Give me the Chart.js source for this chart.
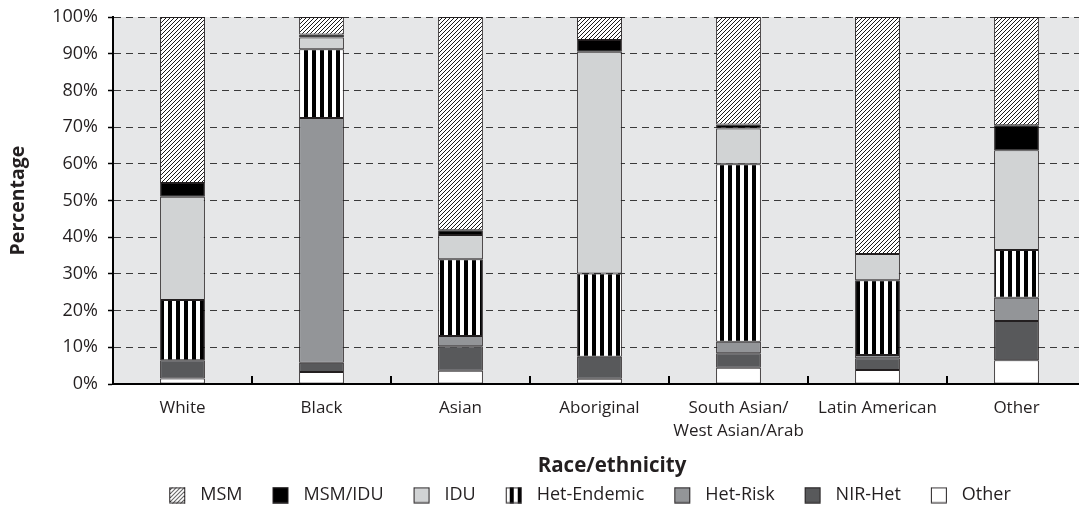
<!DOCTYPE html>
<html><head><meta charset="utf-8">
<script src="https://cdn.jsdelivr.net/npm/chart.js@4/dist/chart.umd.min.js"></script>
<style>
html,body{margin:0;padding:0;overflow:hidden;background:#fff;width:1079px;height:512px}
#wrap{width:1086px;height:512px}
canvas{display:block}
</style></head><body>
<div id="wrap"><canvas id="c" width="1086" height="512" style="width:1086px;height:512px"></canvas></div>
<script>
// ---- data (percent of cases, bottom of stack first) ----
const categories = ['White', 'Black', 'Asian', 'Aboriginal', ['South Asian/', 'West Asian/Arab'], 'Latin American', 'Other'];
const seriesNames = ['Other', 'NIR-Het', 'Het-Risk', 'Het-Endemic', 'IDU', 'MSM/IDU', 'MSM'];
const other      = [1.5, 3.3, 3.6, 1.4, 4.4, 3.8, 6.5];
const nirHet     = [5.0, 2.5, 6.7, 6.0, 4.0, 3.2, 10.7];
const hetRisk    = [0.0, 66.7, 2.8, 0.0, 3.1, 0.9, 6.3];
const hetEndemic = [16.4, 18.7, 20.9, 22.7, 48.4, 20.4, 13.0];
const idu        = [28.1, 3.2, 6.6, 60.4, 9.7, 7.1, 27.2];
const msmIdu     = [3.8, 0.8, 1.3, 3.2, 1.1, 0.0, 6.8];
const msm        = [45.2, 4.8, 58.1, 6.3, 29.3, 64.6, 29.5];
const yMin = 0, yMax = 100, yStep = 10;
const xTitle = 'Race/ethnicity';
const yTitle = 'Percentage';

// ---- styles ----
const TXT = '#231f20';
const FAM = "'Open Sans', sans-serif";
const LEG_FONT = 18;

function tile(w, h, draw) { const c = document.createElement('canvas'); c.width = w; c.height = h; draw(c.getContext('2d')); return c; }
const hatchTile = tile(4, 4, g => {
  g.fillStyle = '#fff'; g.fillRect(0, 0, 4, 4);
  g.strokeStyle = '#000'; g.lineWidth = 0.9; g.beginPath();
  g.moveTo(-1, 5); g.lineTo(5, -1); g.moveTo(-1, 1); g.lineTo(1, -1); g.moveTo(3, 5); g.lineTo(5, 3); g.stroke();
});
const stripeTile = tile(8, 8, g => { g.fillStyle = '#fff'; g.fillRect(0, 0, 8, 8); g.fillStyle = '#000'; g.fillRect(0, 0, 4, 8); });

const canvas = document.getElementById('c');
const ctx = canvas.getContext('2d');
const fills = [
  () => '#ffffff',
  () => '#58595b',
  () => '#939598',
  g => g.createPattern(stripeTile, 'repeat'),
  () => '#d1d3d4',
  () => '#000000',
  g => g.createPattern(hatchTile, 'repeat')
];
const seriesData = [other, nirHet, hetRisk, hetEndemic, idu, msmIdu, msm];

// legend icon: 20px lead space, 16px box, 6px trail
const ICON_W = 42, ICON_LEAD = 20, ICON_BOX = 16;
const icons = fills.map(f => tile(ICON_W, 17, g => {
  g.fillStyle = f(g); g.fillRect(ICON_LEAD, 0.5, ICON_BOX, ICON_BOX);
  g.strokeStyle = TXT; g.lineWidth = 1; g.strokeRect(ICON_LEAD + 0.5, 1, ICON_BOX - 1, ICON_BOX - 1);
}));

const datasets = seriesNames.map((name, i) => ({
  label: name,
  data: seriesData[i],
  backgroundColor: fills[i](ctx),
  borderColor: TXT,
  borderWidth: 1,
  borderSkipped: false
}));

const LEG_CX = 590, LEG_CY = 497, TITLE_CX = 612, TITLE_CY = 466;

const bgPlugin = {
  id: 'bgAndPlace',
  beforeDraw(chart) {
    const a = chart.chartArea, c = chart.ctx;
    c.save(); c.fillStyle = '#e6e7e8'; c.fillRect(a.left, a.top, a.right - a.left, a.bottom - a.top); c.restore();
    const lg = chart.legend;
    if (lg && lg.legendHitBoxes && lg.legendHitBoxes.length) {
      const hb = lg.legendHitBoxes;
      const vl = Math.min(...hb.map(h => h.left)) + ICON_LEAD;
      const vr = Math.max(...hb.map(h => h.left + h.width));
      const dx = LEG_CX - (vl + vr) / 2;
      lg.left += dx; lg.right += dx;
      hb.forEach(h => h.left += dx);
      const lh = LEG_FONT * 1.2;
      const cy = lg.top + lg.options.labels.padding + lh / 2;
      const dy = LEG_CY - cy;
      lg.top += dy; lg.bottom += dy;
      hb.forEach(h => h.top += dy);
    }
    const t = chart.titleBlock;
    if (t) {
      const dx = TITLE_CX - (t.left + t.right) / 2;
      t.left += dx; t.right += dx;
      const dy = TITLE_CY - (t.top + t.height / 2);
      t.top += dy; t.bottom += dy;
    }
  },
  afterDatasetsDraw(chart) {
    const xs = chart.scales.x, a = chart.chartArea, c = chart.ctx;
    c.save(); c.strokeStyle = '#000'; c.lineWidth = 2; c.beginPath();
    for (let i = 0; i < categories.length - 1; i++) {
      const x = Math.round((xs.getPixelForTick(i) + xs.getPixelForTick(i + 1)) / 2);
      c.moveTo(x, a.bottom); c.lineTo(x, a.bottom - 8);
    }
    c.stroke(); c.restore();
  }
};

new Chart(canvas, {
  type: 'bar',
  data: { labels: categories, datasets },
  plugins: [bgPlugin],
  options: {
    responsive: false,
    animation: false,
    layout: { padding: { top: 17, left: 0, right: 0, bottom: 0 } },
    datasets: { bar: { categoryPercentage: 0.322, barPercentage: 1 } },
    scales: {
      x: {
        stacked: true,
        grid: { display: false, drawTicks: false },
        border: { display: true, color: '#000', width: 2, z: 1 },
        ticks: { color: TXT, font: { family: FAM, size: 17, lineHeight: 1.38 }, padding: 12, maxRotation: 0, autoSkip: false },
        afterFit(s) {
          const ch = s.chart;
          const lh = ch.legend ? ch.legend.height : 0;
          const th = ch.titleBlock ? ch.titleBlock.height : 0;
          s.height = 128 - lh - th;
        }
      },
      y: {
        stacked: true, min: yMin, max: yMax,
        ticks: { stepSize: yStep, callback: v => v + '%', color: TXT, font: { family: FAM, size: 18 }, padding: 10 },
        grid: { color: '#3a3a3a', lineWidth: 1, drawTicks: true, tickLength: 5, tickColor: '#000', tickWidth: 1.5, tickBorderDash: [] },
        border: { display: true, color: '#000', width: 2, dash: [7, 5], z: 1 },
        title: { display: true, text: yTitle, color: TXT, font: { family: FAM, size: 19.5, weight: 'bold' }, padding: { top: 7, bottom: 0 } },
        afterFit(s) { s.width = 113; s.paddingTop = 0; s.paddingBottom = 0; }
      }
    },
    plugins: {
      legend: {
        position: 'bottom', reverse: true,
        labels: {
          color: TXT, font: { family: FAM, size: LEG_FONT }, usePointStyle: true, pointStyleWidth: ICON_W, boxHeight: 17, padding: 10,
          generateLabels(chart) {
            const items = Chart.defaults.plugins.legend.labels.generateLabels(chart);
            items.forEach(it => { it.pointStyle = icons[it.datasetIndex]; });
            return items;
          }
        }
      },
      title: { display: true, position: 'bottom', text: xTitle, color: TXT, font: { family: FAM, size: 20.5, weight: 'bold' }, padding: 0 },
      tooltip: { enabled: false }
    }
  }
});
</script>
</body></html>
